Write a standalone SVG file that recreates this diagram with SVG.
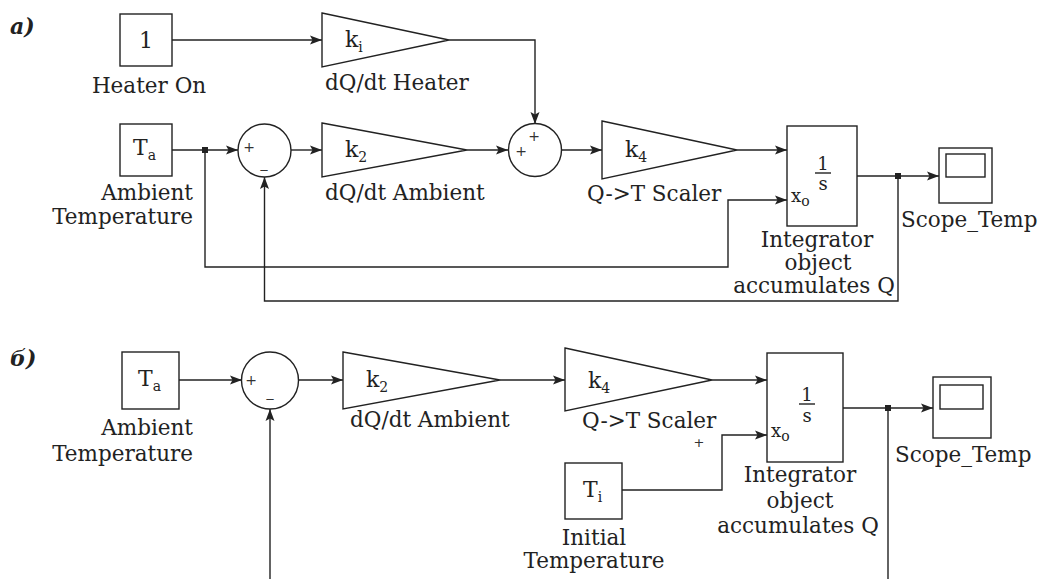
<svg xmlns="http://www.w3.org/2000/svg" width="1042" height="579" viewBox="0 0 1042 579">
<defs>
<marker id="arr" markerUnits="userSpaceOnUse" markerWidth="14" markerHeight="10" refX="12" refY="5" orient="auto">
<path d="M0,0.5 L12,5 L0,9.5 L2.5,5 z" fill="#222"/>
</marker>
</defs>
<style>
.blk{fill:#fff;stroke:#222;stroke-width:1.4}
.ln{fill:none;stroke:#222;stroke-width:1.4}
.ar{fill:none;stroke:#222;stroke-width:1.4;marker-end:url(#arr)}
.t{font-family:"DejaVu Serif","Liberation Serif",serif;font-size:21.5px;fill:#222}
.c{text-anchor:middle}
.e{text-anchor:end}
.k{font-family:"DejaVu Serif","Liberation Serif",serif;font-size:22px;fill:#222}
.sub{font-size:14px}
.sg{font-family:"DejaVu Sans","Liberation Sans",sans-serif;font-size:14px;fill:#333}
.lbl{font-family:"DejaVu Serif","Liberation Serif",serif;font-size:22px;font-style:italic;font-weight:bold;fill:#222}
</style>
<rect width="1042" height="579" fill="#fff"/>
<text class="lbl" x="10" y="34">a)</text>
<text class="lbl" x="10" y="366">б)</text>
<g id="connectors">
<path class="ar" d="M172,40 H322"/>
<path class="ar" d="M449,40 H535 V124"/>
<path class="ar" d="M172,150 H238"/>
<path class="ar" d="M291,150 H322"/>
<path class="ar" d="M467,150 H508"/>
<path class="ar" d="M562,150 H602"/>
<path class="ar" d="M737,150 H787"/>
<path class="ar" d="M205,150 V267 H728 V200 H787"/>
<path class="ar" d="M857,176 H939"/>
<path class="ar" d="M898,176 V301 H264.5 V177"/>
<rect x="202" y="147" width="6" height="6" fill="#222"/>
<rect x="895" y="173" width="6" height="6" fill="#222"/>
<path class="ar" d="M179,380 H242"/>
<path class="ar" d="M270,579 V409"/>
<path class="ar" d="M298,380 H343"/>
<path class="ar" d="M500,380 H565"/>
<path class="ar" d="M712,380 H767"/>
<path class="ar" d="M622,490 H722 V435 H767"/>
<path class="ar" d="M843,408 H933"/>
<path class="ln" d="M888,408 V579"/>
<rect x="885" y="405" width="6" height="6" fill="#222"/>
</g>
<g id="heater_on">
<rect class="blk" x="120" y="14" width="52" height="52"/>
<text class="k c" x="146" y="48">1</text>
<text class="t c" x="149" y="93">Heater On</text>
</g>
<g id="gain_ki">
<path class="blk" d="M322,13 L449,40 L322,67 z"/>
<text class="k" x="345" y="47">k<tspan class="sub" dy="5">i</tspan></text>
<text class="t" x="325" y="90">dQ/dt Heater</text>
</g>
<g id="ambient_a">
<rect class="blk" x="120" y="124" width="52" height="52"/>
<text class="k" x="133" y="155">T<tspan class="sub" dy="5">a</tspan></text>
<text class="t e" x="193" y="200">Ambient</text>
<text class="t e" x="193" y="224">Temperature</text>
</g>
<g id="sum1_a">
<circle class="blk" cx="264.5" cy="150.5" r="26.5"/>
<text class="sg c" x="249" y="152">+</text>
<text class="sg c" x="264" y="168">_</text>
</g>
<g id="gain_k2_a">
<path class="blk" d="M322,123 L467,150 L322,177 z"/>
<text class="k" x="345" y="157">k<tspan class="sub" dy="5">2</tspan></text>
<text class="t" x="325" y="200">dQ/dt Ambient</text>
</g>
<g id="sum2_a">
<circle class="blk" cx="535" cy="150" r="26.5"/>
<text class="sg c" x="534" y="141">+</text>
<text class="sg c" x="521" y="156">+</text>
</g>
<g id="gain_k4_a">
<path class="blk" d="M602,121 L737,150 L602,179 z"/>
<text class="k" x="625" y="157">k<tspan class="sub" dy="5">4</tspan></text>
<text class="t" x="587" y="201">Q-&gt;T Scaler</text>
</g>
<g id="integrator_a">
<rect class="blk" x="787" y="126" width="70" height="100"/>
<text class="k c" x="823" y="170" style="font-size:18px">1</text>
<path class="ln" d="M815,173 H831"/>
<text class="k c" x="823" y="190" style="font-size:18px">s</text>
<text class="k" x="791" y="202" style="font-size:18px">x<tspan class="sub" dy="4">o</tspan></text>
<text class="t c" x="817" y="247">Integrator</text>
<text class="t c" x="818" y="270">object</text>
<text class="t c" x="814" y="293">accumulates Q</text>
</g>
<g id="scope_a">
<rect class="blk" x="939" y="148" width="53" height="55"/>
<rect class="blk" x="946" y="154" width="39" height="23"/>
<text class="t" x="901" y="227">Scope_Temp</text>
</g>
<g id="ambient_b">
<rect class="blk" x="122" y="352" width="57" height="57"/>
<text class="k" x="138" y="386">T<tspan class="sub" dy="5">a</tspan></text>
<text class="t e" x="193" y="435">Ambient</text>
<text class="t e" x="193" y="461">Temperature</text>
</g>
<g id="sum_b">
<circle class="blk" cx="270" cy="380.5" r="28.5"/>
<text class="sg c" x="251" y="385">+</text>
<text class="sg c" x="270" y="397">_</text>
</g>
<g id="gain_k2_b">
<path class="blk" d="M343,352 L500,380 L343,409 z"/>
<text class="k" x="366" y="387">k<tspan class="sub" dy="5">2</tspan></text>
<text class="t" x="350" y="427">dQ/dt Ambient</text>
</g>
<g id="gain_k4_b">
<path class="blk" d="M565,348 L712,380 L565,411 z"/>
<text class="k" x="588" y="388">k<tspan class="sub" dy="5">4</tspan></text>
<text class="t" x="582" y="428">Q-&gt;T Scaler</text>
<text class="sg c" x="699" y="447" style="font-size:13px">+</text>
</g>
<g id="initial_temp">
<rect class="blk" x="565" y="463" width="57" height="56"/>
<text class="k" x="583" y="497">T<tspan class="sub" dy="5">i</tspan></text>
<text class="t c" x="594" y="545">Initial</text>
<text class="t c" x="594" y="568">Temperature</text>
</g>
<g id="integrator_b">
<rect class="blk" x="767" y="353" width="76" height="109"/>
<text class="k c" x="807" y="401" style="font-size:18px">1</text>
<path class="ln" d="M799,404 H815"/>
<text class="k c" x="807" y="422" style="font-size:18px">s</text>
<text class="k" x="771" y="437" style="font-size:18px">x<tspan class="sub" dy="4">o</tspan></text>
<text class="t c" x="800" y="482">Integrator</text>
<text class="t c" x="800" y="508">object</text>
<text class="t c" x="798" y="533">accumulates Q</text>
</g>
<g id="scope_b">
<rect class="blk" x="933" y="377" width="58" height="61"/>
<rect class="blk" x="940" y="385" width="43" height="24"/>
<text class="t" x="895" y="462">Scope_Temp</text>
</g>
</svg>
